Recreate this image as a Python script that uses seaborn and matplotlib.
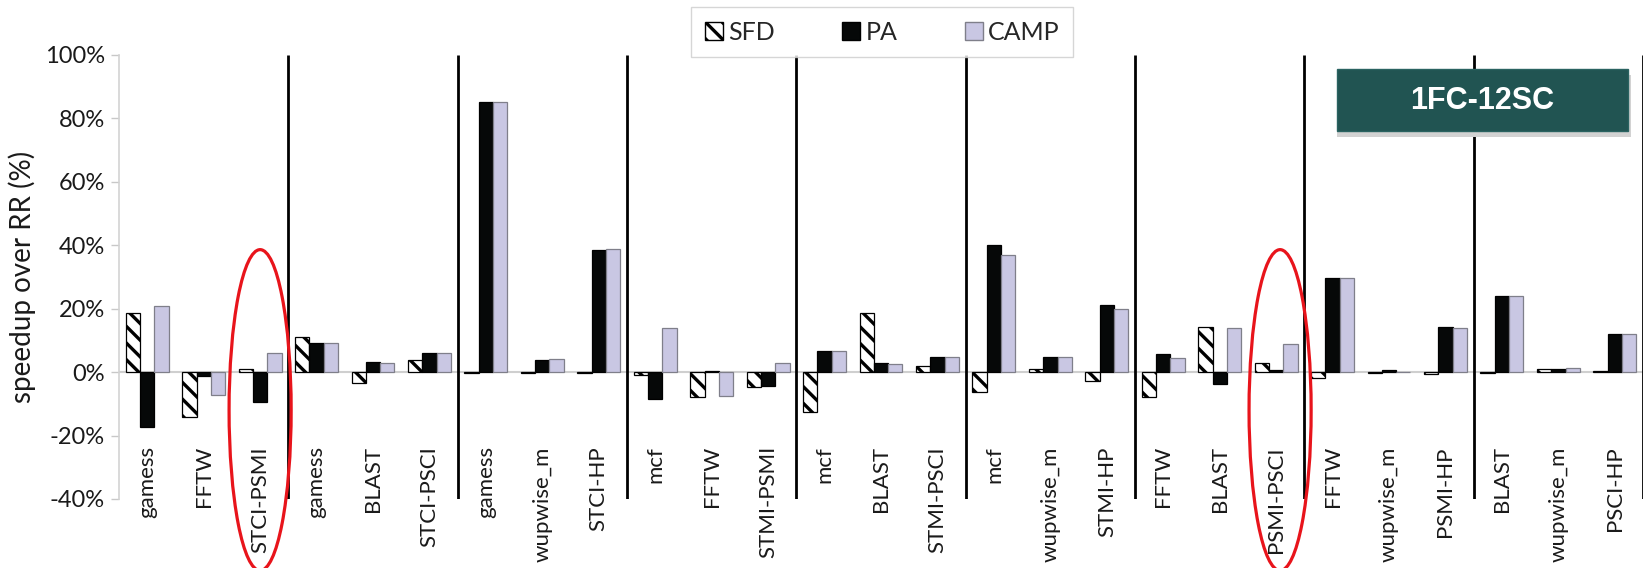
import numpy as np
import pandas as pd
import matplotlib
matplotlib.use("Agg")
import matplotlib.pyplot as plt
import matplotlib.patches as mpatches
import matplotlib.transforms as mtransforms
from matplotlib.ticker import FuncFormatter
import seaborn as sns

# benchmark pairs, 9 groups of 3
categories = ["gamess", "FFTW", "STCI-PSMI",
              "gamess", "BLAST", "STCI-PSCI",
              "gamess", "wupwise_m", "STCI-HP",
              "mcf", "FFTW", "STMI-PSMI",
              "mcf", "BLAST", "STMI-PSCI",
              "mcf", "wupwise_m", "STMI-HP",
              "FFTW", "BLAST", "PSMI-PSCI",
              "FFTW", "wupwise_m", "PSMI-HP",
              "BLAST", "wupwise_m", "PSCI-HP"]

sfd = [18.7, -14.0, 0.9,
       11.1, -3.4, 3.8,
       -0.3, -0.3, -0.3,
       -0.9, -7.8, -4.6,
       -12.6, 18.7, 2.0,
       -6.3, 1.0, -2.9,
       -7.8, 14.3, 2.9,
       -1.7, -0.2, -0.7,
       -0.3, 0.9, 0.2]

pa = [-17.2, -1.1, -9.4,
      9.3, 3.2, 6.1,
      85.2, 3.7, 38.6,
      -8.4, 0.3, -4.3,
      6.8, 3.0, 4.7,
      40.2, 4.7, 21.3,
      5.7, -3.8, 0.7,
      29.8, 0.8, 14.1,
      23.9, 1.0, 12.1]

camp = [20.9, -7.1, 6.0,
        9.3, 3.0, 6.1,
        85.2, 4.2, 38.9,
        14.0, -7.5, 3.0,
        6.8, 2.6, 4.7,
        36.9, 4.7, 19.8,
        4.4, 13.8, 9.0,
        29.8, 0.0, 13.8,
        23.9, 1.3, 12.1]

schemes = ["SFD", "PA", "CAMP"]
highlighted = ["STCI-PSMI", "PSMI-PSCI"]

n = len(categories)
df = pd.DataFrame({
    "slot": np.tile(np.arange(n), 3),
    "scheme": np.repeat(schemes, n),
    "speedup": sfd + pa + camp,
})

sns.set_theme(style="white")
plt.rcParams["font.family"] = ["Lato", "DejaVu Sans"]
plt.rcParams["hatch.linewidth"] = 2.4

colors = {"SFD": "white", "PA": "#060808", "CAMP": "#c9c7e3"}
edges = {"SFD": "black", "PA": "black", "CAMP": "#7f7f8a"}

fig = plt.figure(figsize=(16.46, 5.68), dpi=100)
ax = fig.add_axes([0.0723, 0.1215, 0.9259, 0.7817])

ax.axhline(0, color="#cfcfcf", lw=1.5, zorder=0)

sns.barplot(data=df, x="slot", y="speedup", hue="scheme", hue_order=schemes,
            order=list(range(n)), palette=colors, width=0.76, saturation=1,
            errorbar=None, legend=False, ax=ax, zorder=2)

for scheme, cont in zip(schemes, ax.containers):
    for p in cont.patches:
        p.set_edgecolor(edges[scheme])
        p.set_linewidth(0.9)
        if scheme == "SFD":
            p.set_hatch("\\\\")

# group separators
ax.vlines(np.arange(2.5, n, 3), -40, 100, color="black", lw=2, zorder=3)

ax.set_xlim(-0.5, n - 0.5)
ax.set_ylim(-40, 100)
ax.set_yticks(np.arange(-40, 101, 20))
ax.yaxis.set_major_formatter(FuncFormatter(lambda v, _: f"{v:.0f}%"))
ax.tick_params(axis="y", direction="out", length=6, width=1, color="#c8c8c8",
               labelsize=17, labelcolor="#1a1a1a", pad=4, left=True)
ax.set_xticks(range(n))
ax.set_xticklabels(categories, rotation=90, va="top", ha="center")
ax.tick_params(axis="x", length=0, labelsize=16, labelcolor="#1a1a1a", pad=-38)

for side in ["top", "right", "bottom"]:
    ax.spines[side].set_visible(False)
ax.spines["left"].set_color("#d3d3d3")
ax.spines["left"].set_linewidth(1.2)

ax.set_xlabel("")
ax.set_ylabel("speedup over RR (%)", fontsize=20, color="#1a1a1a")
ax.yaxis.set_label_coords(-0.0545, 0.5)

# legend
handles = [mpatches.Patch(facecolor=colors[s], edgecolor=edges[s], hatch="\\\\" if s == "SFD" else None,
                          label=s) for s in schemes]
leg = fig.legend(handles=handles, loc="upper center", bbox_to_anchor=(0.536, 0.988), ncol=3,
                 fontsize=18, frameon=True, fancybox=False, handlelength=0.72, handleheight=0.72,
                 handletextpad=0.2, columnspacing=2.7, borderpad=0.55, borderaxespad=0)
leg.get_frame().set_edgecolor("#cccccc")
leg.get_frame().set_linewidth(1.0)

# red ellipses
blend = mtransforms.blended_transform_factory(ax.transData, fig.transFigure)
for name, xc in zip(highlighted, [2.0, 20.07]):
    ax.add_patch(mpatches.Ellipse((xc, 0.278), width=1.1, height=0.565, transform=blend,
                                  facecolor="none", edgecolor="#e8141b", lw=2.3,
                                  clip_on=False, zorder=5))

# config badge
fig.patches.append(mpatches.Rectangle((0.8123, 0.7588), 0.1788, 0.1085, transform=fig.transFigure,
                                      facecolor="#d2d2d2", edgecolor="none", zorder=5))
fig.patches.append(mpatches.Rectangle((0.8123, 0.7694), 0.1766, 0.1091, transform=fig.transFigure,
                                      facecolor="#215452", edgecolor="#2a6361", lw=1, zorder=6))
fig.text(0.9005, 0.823, "1FC-12SC", color="white", fontsize=22, fontweight="bold",
         family=["Liberation Sans", "DejaVu Sans"], ha="center", va="center", zorder=7)

fig.savefig("out.png", dpi=100)
